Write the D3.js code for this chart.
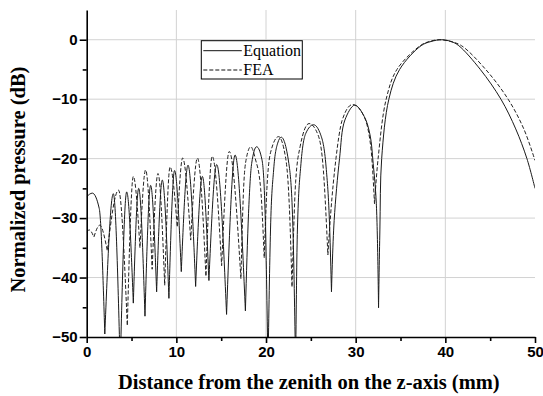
<!DOCTYPE html>
<html>
<head>
<meta charset="utf-8">
<script src="https://cdn.jsdelivr.net/npm/d3@7"></script>
<style>
    body { margin: 0; background: #fff; }
    .axis .tick text { font-family: "Liberation Sans", Arial, sans-serif; font-weight: bold; font-size: 15px; fill: #000; }
    .axis path, .axis line { stroke: #000; stroke-width: 1.6px; }
    .axis-title { font-family: "Liberation Serif", "Times New Roman", serif; font-weight: bold; font-size: 20.5px; }
    .legend text { font-family: "Liberation Serif", "Times New Roman", serif; font-size: 16px; }
</style>
</head>
<body>
<div id="chart"></div>
<script>

// ticks
const xTicks = [0, 10, 20, 30, 40, 50];
const xMinor = [5, 15, 25, 35, 45];
const yTicks = [0, -10, -20, -30, -40, -50];
const yMinor = [-5, -15, -25, -35, -45];
const seriesNames = ["Equation", "FEA"];

// [distance mm, pressure dB]
const equationPts = [
    [0, -26.4], [0.63, -25.8], [1.4, -28.4], [2.02, -49.5],
    [2.97, -25.9], [3.74, -55],
    [4.46, -25.6], [5.2, -44.3],
    [5.8, -25.0], [6.5, -46.5],
    [7.13, -24.5], [7.8, -42.4],
    [8.43, -23.6], [9.17, -43.5],
    [9.8, -22.0], [10.55, -39.0],
    [11.3, -21.1], [12.15, -41.5],
    [12.9, -23.0], [13.63, -40.5],
    [14.5, -21.0], [15.6, -46.2],
    [16.55, -19.4], [17.7, -45.6],
    [18.05, -29.2], [18.4, -20.8], [18.95, -18.0], [19.55, -20.2], [19.9, -29.2], [20.22, -55],
    [20.5, -32], [20.85, -21.9], [21.3, -17.4], [21.7, -16.4], [22.6, -21.4], [23.0, -31.7], [23.3, -55],
    [23.5, -32], [23.9, -20.8], [24.45, -15.7], [25.3, -14.3], [26.1, -16.0], [26.7, -21.4], [27.1, -31.7], [27.3, -42.4],
    [27.6, -30.4], [28.2, -20], [28.8, -13.5], [29.9, -11.0], [30.95, -12.9], [31.6, -16], [31.95, -20.8], [32.3, -27.5], [32.55, -45.1],
    [32.7, -32], [32.9, -20], [33.7, -10], [34.9, -5], [37.3, -1], [38.4, -0.3], [39.6, 0], [40.65, -0.3], [41.5, -1],
    [43.9, -5], [46.2, -10], [47.85, -15], [49.1, -20], [50, -25]
];

const feaPts = [
    [0, -32.3], [0.3, -32.0], [0.8, -33.2],
    [1.45, -31.2], [2.3, -35.5],
    [3.55, -25.3], [4.53, -48.1],
    [5.2, -23.0], [5.94, -35.0],
    [6.57, -21.9], [7.3, -38.6],
    [7.95, -22.5], [8.7, -41.3],
    [9.3, -21.4], [10.1, -31.5],
    [10.7, -19.9], [11.6, -33.7],
    [12.35, -19.9], [13.3, -39.8],
    [14.0, -19.6], [15.05, -38.0],
    [15.9, -18.8], [17.2, -40.2],
    [17.5, -25], [17.8, -20], [18.3, -18.0], [18.8, -20], [19.4, -25], [19.8, -36.7],
    [20.1, -25], [20.5, -19], [21.4, -16.3], [22.2, -20], [22.6, -28], [22.9, -41.6],
    [23.3, -24], [23.8, -18], [24.8, -14.1], [25.8, -16], [26.4, -22], [26.9, -36.2],
    [27.2, -29.5], [27.8, -20], [28.5, -13.5], [29.65, -10.9], [30.8, -12.5], [31.7, -18.2], [32.1, -27.6],
    [32.5, -20], [33.4, -10], [34.6, -5], [37.2, -1], [38.2, -0.3], [39.3, 0], [40.6, -0.3], [41.8, -1],
    [44.5, -5], [47.0, -10], [48.75, -15], [50, -20.3]
];

let margin = {top: 10, right: 8, bottom: 59, left: 86.7};
let width = 543 - margin.left - margin.right;
let height = 396 - margin.top - margin.bottom;

let svg = d3.select("#chart").append("svg")
    .attr("width", 543)
    .attr("height", 396)
    .append("g")
    .attr("transform", `translate(${margin.left}, ${margin.top})`);

let x = d3.scaleLinear().domain([0, 50]).range([0, width]);
let y = d3.scaleLinear().domain([-50, 5]).range([height, 0]);

// grid
let grid = svg.append("g").attr("class", "grid");
grid.selectAll(".vgrid")
    .data(xTicks.filter(d => d > 0 && d < 50))
    .enter().append("line")
    .attr("x1", d => x(d)).attr("x2", d => x(d))
    .attr("y1", 0).attr("y2", height)
    .attr("stroke", "#d2d2d2").attr("stroke-width", 1);
grid.selectAll(".hgrid")
    .data(yTicks.filter(d => d > -50))
    .enter().append("line")
    .attr("x1", 0).attr("x2", width)
    .attr("y1", d => y(d)).attr("y2", d => y(d))
    .attr("stroke", "#d2d2d2").attr("stroke-width", 1);

svg.append("clipPath").attr("id", "plot-clip")
    .append("rect").attr("x", 0).attr("y", 0).attr("width", width).attr("height", height);

// split a series at its nulls so every lobe gets its own smooth arch with a sharp bottom
function lobes(pts) {
    let segs = [], cur = [pts[0]];
    for (let i = 1; i < pts.length; i++) {
        cur.push(pts[i]);
        let isNull = i < pts.length - 1 && pts[i][1] < pts[i - 1][1] && pts[i][1] < pts[i + 1][1];
        if (isNull) { segs.push(cur); cur = [pts[i]]; }
    }
    segs.push(cur);
    return segs;
}

let shortLine = d3.line()
    .x(d => x(d[0]))
    .y(d => y(d[1]))
    .curve(d3.curveMonotoneX);

// the wide main lobe reads smoother with catmull-rom
let longLine = d3.line()
    .x(d => x(d[0]))
    .y(d => y(d[1]))
    .curve(d3.curveCatmullRom.alpha(0.5));

function lobePath(pts) {
    return lobes(pts).map((s, i) => {
        let p = (s.length > 9 ? longLine : shortLine)(s);
        return i ? p.replace(/^M[^CLZ]*/, "") : p;
    }).join("");
}

let curves = svg.append("g").attr("clip-path", "url(#plot-clip)");

curves.append("path")
    .attr("d", lobePath(feaPts))
    .attr("fill", "none")
    .attr("stroke", "#222")
    .attr("stroke-width", 1)
    .attr("stroke-dasharray", "4,2");

curves.append("path")
    .attr("d", lobePath(equationPts))
    .attr("fill", "none")
    .attr("stroke", "#1a1a1a")
    .attr("stroke-width", 1);

// axes
svg.append("g")
    .attr("class", "axis")
    .attr("transform", `translate(0, ${height})`)
    .call(d3.axisBottom(x).tickValues(xMinor).tickSize(4).tickFormat(""))
    .select(".domain").remove();

svg.append("g")
    .attr("class", "axis")
    .call(d3.axisLeft(y).tickValues(yMinor).tickSize(4).tickFormat(""))
    .select(".domain").remove();

svg.append("g")
    .attr("class", "axis x-axis")
    .attr("transform", `translate(0, ${height})`)
    .call(d3.axisBottom(x).tickValues(xTicks).tickSize(6).tickPadding(3).tickSizeOuter(0));

svg.append("g")
    .attr("class", "axis y-axis")
    .call(d3.axisLeft(y).tickValues(yTicks).tickSize(7).tickPadding(2).tickSizeOuter(0));

// axis titles
svg.append("text")
    .attr("class", "axis-title")
    .attr("text-anchor", "middle")
    .attr("x", width / 2 - 2)
    .attr("y", 389 - margin.top)
    .text("Distance from the zenith on the z-axis (mm)");

svg.append("text")
    .attr("class", "axis-title")
    .attr("text-anchor", "middle")
    .attr("transform", `translate(${25 - margin.left}, ${179.5 - margin.top}) rotate(-90)`)
    .text("Normalized pressure (dB)");

// legend
let legend = svg.append("g")
    .attr("class", "legend")
    .attr("transform", `translate(${201.3 - margin.left}, ${40.7 - margin.top})`);

legend.append("rect")
    .attr("width", 101).attr("height", 38.3)
    .attr("fill", "#fff").attr("stroke", "#000").attr("stroke-width", 1);

seriesNames.forEach((name, i) => {
    let ly = 10 + i * 19.3;
    legend.append("line")
        .attr("x1", 2).attr("x2", 40.5)
        .attr("y1", ly).attr("y2", ly)
        .attr("stroke", "#111").attr("stroke-width", 1)
        .attr("stroke-dasharray", i ? "4,2" : null);
    legend.append("text")
        .attr("x", 42)
        .attr("y", ly + 5)
        .text(name);
});

</script>
</body>
</html>
